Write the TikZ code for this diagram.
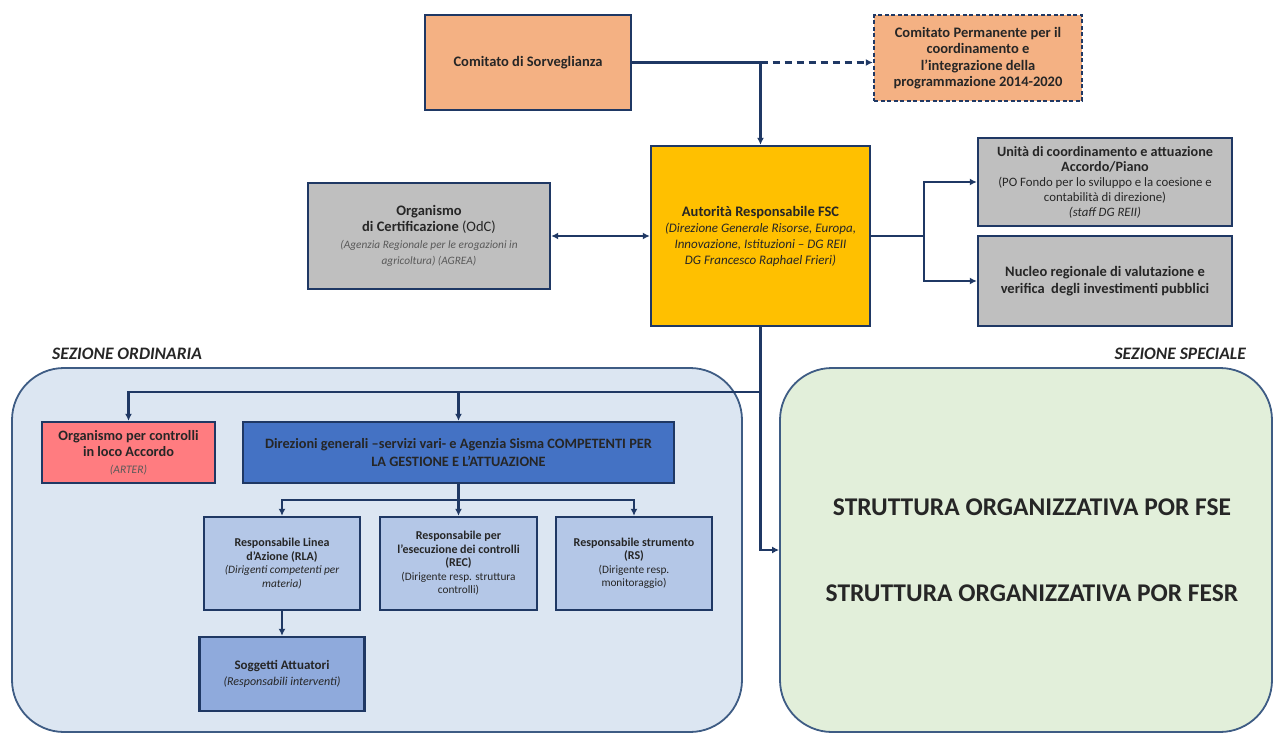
\documentclass[tikz,border=0pt]{standalone}
\usepackage{fontspec}
\setmainfont{Carlito}
\usetikzlibrary{arrows.meta}
\definecolor{navy}{HTML}{1F3864}
\definecolor{ink}{HTML}{262626}
\definecolor{subgray}{HTML}{595959}
\definecolor{peach}{HTML}{F4B183}
\definecolor{gold}{HTML}{FFC000}
\definecolor{stone}{HTML}{BFBFBF}
\definecolor{salmon}{HTML}{FF7C80}
\definecolor{royal}{HTML}{4472C4}
\definecolor{paleblue}{HTML}{B4C7E7}
\definecolor{midblue}{HTML}{8FAADC}
\definecolor{secblue}{HTML}{DCE6F2}
\definecolor{secgreen}{HTML}{E2EFDA}
\definecolor{secline}{HTML}{3E5C84}

\begin{document}
\begin{tikzpicture}[x=1pt, y=-1pt,
  box/.style = {shape=rectangle, draw=navy, line width=2.4pt,
    align=center, text=ink, inner sep=3pt,
    font=\fontsize{14.5}{16.5}\selectfont\bfseries},
  small/.style = {box, font=\fontsize{12}{13.5}\selectfont\bfseries},
  section/.style = {shape=rectangle, rounded corners=52pt,
    draw=secline, line width=1.8pt},
  tag/.style = {inner sep=0pt, text=ink,
    font=\fontsize{17.5}{20}\selectfont\bfseries\itshape},
  bigtext/.style = {inner sep=0pt, text=ink,
    font=\fontsize{25.5}{30}\selectfont\bfseries},
  link/.style = {draw=navy, line width=2.4pt,
    >={Latex[length=7pt,width=7pt]}},
  arr/.style = {link, ->}]
  \useasboundingbox (0,0) rectangle (1275,734);
  \node[section, fill=secblue, minimum width=730pt, minimum height=364pt] (ord) at (377,550) {};
  \node[section, fill=secgreen, minimum width=492pt, minimum height=364pt] (spec) at (1026,550) {};
  \node[tag, anchor=west] (ordtag) at (52,354) {SEZIONE ORDINARIA};
  \node[tag, anchor=east] (spectag) at (1246,354) {SEZIONE SPECIALE};
  \node[bigtext] (fse) at (1032,507) {STRUTTURA ORGANIZZATIVA POR FSE};
  \node[bigtext] (fesr) at (1032,593) {STRUTTURA ORGANIZZATIVA POR FESR};

  \node[box, fill=peach, minimum width=206pt, minimum height=95pt] (sorv) at (528,62.5)
    {Comitato di Sorveglianza};
  \node[box, fill=peach, dash pattern=on 4pt off 2.5pt, minimum width=208pt, minimum height=86pt] (perm) at (978,58)
    {Comitato Permanente per il\\ coordinamento e\\ l’integrazione della\\ programmazione 2014-2020};
  \node[box, fill=gold, minimum width=219pt, minimum height=180pt,
    font=\fontsize{13}{16}\selectfont\itshape] (aut) at (760.5,236)
    {{\fontsize{14.5}{16}\selectfont\upshape\bfseries Autorità Responsabile FSC}\\
     (Direzione Generale Risorse, Europa,\\ Innovazione, Istituzioni – DG REII\\ DG Francesco Raphael Frieri)};
  \node[box, fill=stone, minimum width=242pt, minimum height=106pt] (odc) at (429,236)
    {Organismo\\ di Certificazione {\mdseries (OdC)}\\
     \fontsize{11.3}{13}\selectfont\mdseries\itshape\color{subgray} (Agenzia Regionale per le erogazioni in\\
     \fontsize{11.3}{13}\selectfont\mdseries\itshape\color{subgray} agricoltura) (AGREA)};
  \node[box, fill=stone, minimum width=254pt, minimum height=88pt,
    font=\fontsize{14.2}{15}\selectfont\bfseries] (unita) at (1105,182)
    {Unità di coordinamento e attuazione\\ Accordo/Piano\\
     \fontsize{12.8}{14.5}\selectfont\mdseries (PO Fondo per lo sviluppo e la coesione e\\
     \fontsize{12.8}{14.5}\selectfont\mdseries contabilità di direzione)\\
     \fontsize{12.8}{14.5}\selectfont\mdseries\itshape (staff DG REII)};
  \node[box, fill=stone, minimum width=254pt, minimum height=90pt] (nucleo) at (1105,281)
    {Nucleo regionale di valutazione e\\ verifica\ \ degli investimenti pubblici};

  \node[box, fill=salmon, minimum width=173pt, minimum height=61pt,
    font=\fontsize{14.3}{16.5}\selectfont\bfseries] (arter) at (128.5,452.5)
    {Organismo per controlli\\ in loco Accordo\\ \fontsize{11.5}{13}\selectfont\mdseries\itshape\color{subgray}(ARTER)};
  \node[box, fill=royal, minimum width=431pt, minimum height=61pt,
    font=\fontsize{14.3}{17.5}\selectfont\bfseries] (dir) at (458.5,452.5)
    {Direzioni generali –servizi vari- e Agenzia Sisma COMPETENTI PER\\ LA GESTIONE E L’ATTUAZIONE};
  \node[small, fill=paleblue, minimum width=156pt, minimum height=93pt] (rla) at (282,563.5)
    {Responsabile Linea\\ d’Azione (RLA)\\
     \fontsize{11.3}{13.5}\selectfont\mdseries\itshape (Dirigenti competenti per\\
     \fontsize{11.3}{13.5}\selectfont\mdseries\itshape materia)};
  \node[small, fill=paleblue, minimum width=157pt, minimum height=93pt] (rec) at (458.5,563.5)
    {Responsabile per\\ l’esecuzione dei controlli\\ (REC)\\
     \fontsize{11.3}{13.5}\selectfont\mdseries (Dirigente resp. struttura\\
     \fontsize{11.3}{13.5}\selectfont\mdseries controlli)};
  \node[small, fill=paleblue, minimum width=156pt, minimum height=93pt] (rs) at (634,563.5)
    {Responsabile strumento\\ (RS)\\
     \fontsize{11.3}{13.5}\selectfont\mdseries (Dirigente resp.\\
     \fontsize{11.3}{13.5}\selectfont\mdseries monitoraggio)};
  \node[small, fill=midblue, minimum width=165pt, minimum height=74pt,
    font=\fontsize{13}{16}\selectfont\bfseries] (sogg) at (282,674)
    {Soggetti Attuatori\\ \fontsize{12}{14}\selectfont\mdseries\itshape (Responsabili interventi)};

  \coordinate (fork) at (924,236);
  \coordinate (branch) at (760.5,392);
  \coordinate (split) at (458.5,500);
  \draw[arr] (sorv.east) -| (aut.north);
  \draw[arr, dash pattern=on 7pt off 5pt] (sorv.east -| aut.north) -- (sorv.east -| perm.west);
  \draw[link, <->] (odc.east) -- (aut.west);
  \draw[link] (aut.east) -- (fork);
  \draw[arr] (fork) |- (unita.west);
  \draw[arr] (fork) |- (nucleo.west);
  \draw[arr] (aut.south) |- (spec.west);
  \draw[arr] (branch) -| (arter.north);
  \draw[arr] (dir.north |- branch) -- (dir.north);
  \draw[link] (dir.south) -- (split);
  \draw[arr] (split) -| (rla.north);
  \draw[arr] (split) -- (rec.north);
  \draw[arr] (split) -| (rs.north);
  \draw[arr] (rla.south) -- (sogg.north);
\end{tikzpicture}
\end{document}
